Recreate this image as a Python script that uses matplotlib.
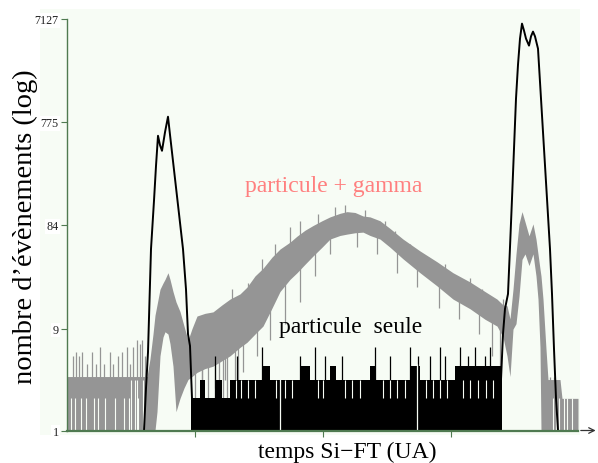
import matplotlib
matplotlib.use("Agg")
import matplotlib.pyplot as plt
import numpy as np
from matplotlib.patches import Rectangle

plt.rcParams['font.family'] = ['Liberation Serif', 'DejaVu Serif']

# ---------------- data (x in arbitrary channel units, y = counts) ----------------
# "particule + gamma" (grey): noisy band described by lower / upper envelope
gray_x  = [0, 80, 83, 86, 88, 90, 93, 96, 98, 101, 103, 106, 109, 113, 117, 121, 125, 130,
           138, 146, 155, 163, 173, 180, 188, 196, 205, 213, 223, 230, 238, 246, 255, 263,
           273, 280, 288, 296, 303, 313, 323, 336, 353, 370, 386, 403, 418, 430, 436, 440,
           443, 446, 449, 452, 455, 458, 462, 466, 469, 471, 473, 474, 476, 479, 481, 493,
           495, 511]
gray_hi = [3.2, 3.2, 4.7, 8, 12, 15, 21, 24, 26, 30, 26, 20, 16, 13, 9.5, 7, 9, 11.8,
           12.5, 12.9, 15, 17, 19, 22, 28, 33, 42, 50, 58, 66, 75, 83, 92, 100,
           108, 112, 110, 102, 100, 92, 78, 62, 48, 38, 30, 24.6, 20, 17, 15, 14.7,
           11.1, 21, 45, 86, 112, 90, 66.5, 86, 62, 45, 32.6, 28, 17, 5.8, 3, 3,
           2, 2]
gray_lo = [1, 1, 1, 1, 1, 1.5, 5, 7.5, 8.4, 8, 6.5, 4, 1.5, 2, 2.5, 3, 3.2, 3.5,
           3.8, 4.0, 4.5, 5, 6, 6.7, 8, 9.5, 14, 20, 26, 30, 36, 43, 52, 62,
           67, 69, 71, 72, 67, 62, 52, 40.5, 30, 22.6, 17, 13.8, 11, 9.5, 7.5, 5,
           3.2, 8.9, 10, 18, 40, 45, 35, 45, 28, 17, 6, 1, 1, 1, 1, 1,
           1, 1]
# grey lines from the floor in the flat regions (position, count)
gray_floor_x = [6, 9, 12, 15, 20, 25, 29, 33, 37, 43, 46, 51, 55, 60, 63, 66, 70, 73, 75, 78,
                128, 135, 141, 152, 156, 160, 171, 478, 483, 487, 490]
gray_floor_v = [5, 5.4, 5, 5.4, 4.2, 5.4, 4.2, 6, 4.2, 5.4, 4.2, 5, 5.4, 6, 4.2, 6, 7, 6.5, 7, 5,
                8, 6, 9, 10, 9, 12, 14, 4, 3.2, 3.2, 3]
# grey spikes above the band (position, count)
gray_up_x = [165, 181, 195, 208, 223, 233, 251, 268, 278, 298, 318, 328, 343, 361, 378, 403, 415, 436]
gray_up_v = [21, 24, 40, 56, 81, 91, 107, 123, 130, 117, 91, 73, 56, 42, 36, 27, 21, 17]
# grey dips below the band (position, count reached)
gray_dn_x = [135, 148, 158, 168, 176, 190, 203, 218, 233, 248, 263, 290, 310, 330, 350,
             372, 392, 412, 425, 433]
gray_dn_v = [2, 2.5, 3, 3, 3.5, 5, 7, 10, 16, 28, 45, 52, 45, 30, 22,
             14, 11, 8, 5, 3.5]
# white gaps inside the flat grey region (position, top)
gray_gap_x = [4, 8, 14, 19, 27, 31, 38, 48, 57, 62, 64, 68, 70, 71, 76, 486, 489, 492, 497, 500, 505]
gray_gap_v = [2, 2, 2, 2, 2, 2, 2, 2, 2, 2, 3, 3, 3, 2, 3, 2, 2, 2, 2, 2, 2]

# "particule seule" (black): two peaks drawn as a line
black_l_x = [77, 79, 81, 84, 87, 89, 91, 93, 95, 98, 101, 103, 108, 112, 116, 119, 121, 123, 125, 127]
black_l_v = [1, 2.5, 5.4, 50, 142, 300, 575, 470, 416, 620, 867, 588, 228, 107, 50, 21, 8, 6.2, 2, 1]
black_r_x = [433, 434, 436, 438, 441, 443, 445, 447, 449, 451, 453, 455, 457, 459, 462, 464,
             466, 468, 471, 474, 477, 480, 483, 485, 487, 489, 491]
black_r_v = [2, 3, 8, 13.8, 19, 52, 148, 435, 1280, 2660, 4670, 6450, 5550, 4670, 4016, 4900,
             5430, 4900, 3760, 1280, 435, 148, 50, 19, 5.8, 2, 1]
# low-count black band between the peaks (step levels)
band_x  = [124, 133, 138, 148, 155, 163, 195, 203, 233, 243, 263, 269, 303, 309, 343, 353, 388, 435]
band_hi = [2, 3, 2, 3, 2, 3, 4, 3, 4, 3, 4, 3, 4, 3, 4, 3, 4, 4]
black_spk_x = [148, 170, 195, 233, 248, 258, 275, 308, 323, 343, 351, 363, 373, 378, 393, 401, 408, 418, 423]
black_spk_v = [5, 5, 6, 5, 6, 5, 5, 6, 5, 6, 5, 5, 6, 5, 6, 5, 6, 5, 6]
black_gap_x = [169, 174, 181, 188, 209, 218, 225, 251, 256, 278, 285, 293, 316, 323, 330, 338,
               359, 366, 373, 380, 396, 403, 411, 419, 426]
black_gap_v = [3, 3, 3, 3, 3, 3, 3, 3, 3, 3, 3, 3, 3, 3, 3, 3, 3, 3, 3, 3, 3, 3, 3, 3, 3]
black_cut_x = [213, 350]

yticks = [1, 9, 84, 775, 7127]
ytick_labels = ['1', '9', '84', '775', '7127']
xticks = [128, 256, 384]

# ---------------- figure ----------------
W, H = 598, 464
fig = plt.figure(figsize=(W / 100, H / 100), dpi=100)
fig.patch.set_facecolor('white')
bg = '#f7fcf5'
fig.add_artist(Rectangle((40 / W, 1 - 436 / H), 540 / W, 426 / H,
                         transform=fig.transFigure, facecolor=bg, edgecolor='none', zorder=-10))

ax = fig.add_axes([67 / W, 1 - 431.5 / H, 511 / W, 411.5 / H])
ax.set_facecolor(bg)
ax.set_yscale('log')
ax.set_xlim(0, 511)
ax.set_ylim(1, 7127)

grey = '#959595'
ax.fill_between(gray_x, gray_lo, gray_hi, color=grey, lw=0, zorder=2)
ax.vlines(gray_floor_x, 1, gray_floor_v, color=grey, lw=0.9, zorder=2)
hi_at = np.interp(gray_up_x, gray_x, gray_hi)
ax.vlines(gray_up_x, hi_at * 0.8, gray_up_v, color=grey, lw=0.9, zorder=2)
lo_at = np.interp(gray_dn_x, gray_x, gray_lo)
ax.vlines(gray_dn_x, gray_dn_v, lo_at * 1.2, color=grey, lw=0.9, zorder=2)
ax.vlines(gray_gap_x, 1, gray_gap_v, color=bg, lw=0.8, zorder=2.5)

ax.fill_between(band_x, 1, band_hi, step='post', color='black', lw=0, zorder=3)
ax.vlines(black_spk_x, 1, black_spk_v, color='black', lw=0.9, zorder=3)
ax.vlines(black_gap_x, 2, black_gap_v, color=bg, lw=0.8, zorder=3.5)
ax.vlines(black_cut_x, 1, 4.2, color=bg, lw=0.9, zorder=3.5)
ax.plot(black_l_x, black_l_v, color='black', lw=1.4, zorder=4)
ax.plot(black_r_x, black_r_v, color='black', lw=1.4, zorder=4)

# axes styling
axc = '#4f7a50'
for s in ['top', 'right']:
    ax.spines[s].set_visible(False)
ax.spines['left'].set_color(axc)
ax.spines['left'].set_linewidth(1.0)
ax.spines['bottom'].set_color(axc)
ax.spines['bottom'].set_linewidth(1.6)
ax.spines['left'].set_zorder(6)
ax.spines['bottom'].set_zorder(6)

ax.set_yticks(yticks)
ax.set_yticklabels(ytick_labels)
ax.yaxis.set_minor_locator(matplotlib.ticker.NullLocator())
ax.set_xticks(xticks)
ax.set_xticklabels([])
ax.tick_params(axis='y', direction='out', length=4, width=0.8, color=axc,
               labelsize=8.7, labelcolor='#222222', pad=2)
ax.tick_params(axis='x', direction='out', length=4, width=0.8, color=axc)
for lab in ax.get_yticklabels():
    lab.set_bbox(dict(facecolor='white', edgecolor='none', pad=1))

ax.annotate('', xy=(1.04, 0), xytext=(1.0, 0), xycoords='axes fraction',
            arrowprops=dict(arrowstyle='->', color='#333333', lw=0.9), annotation_clip=False)

ax.text(0.548, -0.05, 'temps Si\u2212FT (UA)', transform=ax.transAxes, fontsize=17,
        ha='center', va='center')
ax.text(-0.082, 0.497, 'nombre d\u2019\u00e9v\u00e8nements (log)', transform=ax.transAxes,
        fontsize=20.5, rotation=90, ha='center', va='center')

ax.text(266.5, 196, 'particule + gamma', color='#ff7f7f', fontsize=17, ha='center', va='center', zorder=7)
ax.text(284, 9.5, 'particule  seule', color='black', fontsize=17, ha='center', va='center', zorder=7)

fig.savefig('out.png', dpi=100)
